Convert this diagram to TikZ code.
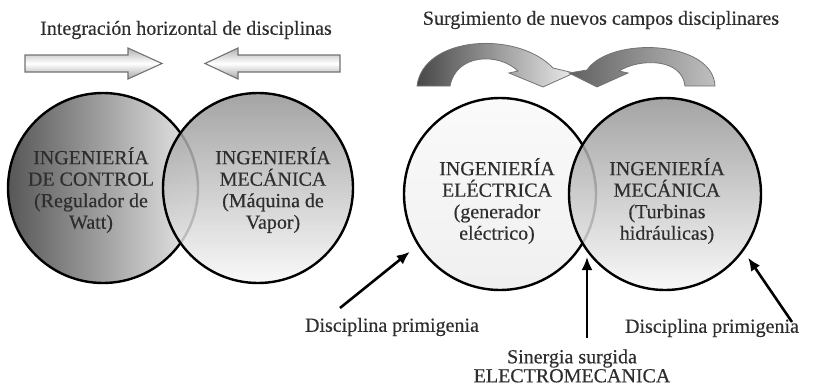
\documentclass[tikz,border=0pt]{standalone}
\usepackage{fontspec}
\setmainfont{Liberation Serif}[UprightFeatures={FakeBold=0.35}]
\usetikzlibrary{arrows.meta,positioning,calc}
\tikzset{headarrow/.style = {-{Latex[length=13pt,width=11pt]}, line width=2.6pt}}
\tikzset{field/.style = {circle, draw, line width=2.4pt, inner sep=0pt}}
\tikzset{fieldtext/.style = {align=center, font=\fontsize{20}{21.5}\selectfont, text=black!82}}
\tikzset{caption/.style = {font=\fontsize{20}{19}\selectfont, text=black!82}}
\tikzset{blockarrow/.style = {draw=black!55, line width=1.1pt, top color=black!30, bottom color=black!35, middle color=white}}
\tikzset{bentarrow/.style = {draw=black!55, line width=0.8pt}}

\begin{document}
\begin{tikzpicture}[x=1pt,y=-1pt]
    \useasboundingbox (0,0) rectangle (820,388);

    % titles
    \node[caption] (title-1) at (186,30) {Integración horizontal de disciplinas};
    \node[caption] (title-2) at (601,20) {Surgimiento de nuevos campos disciplinares};

    % horizontal integration
    \path[blockarrow] (25,55) -- (128,55) -- (128,48) -- (162,63.5) -- (128,79) -- (128,72) -- (25,72) -- cycle;
    \path[blockarrow] (340,55) -- (238,55) -- (238,48) -- (205,63.5) -- (238,79) -- (238,72) -- (340,72) -- cycle;

    % new fields
    \path[bentarrow, left color=black!72, right color=black!8]
        (417,86) .. controls (423,36) and (517,30) .. (553,68) -- (574,73) -- (543,87) -- (509,73) -- (518,71)
        .. controls (498,52) and (456,54) .. (450,86) -- cycle;
    \path[bentarrow, left color=black!62, right color=black!25]
        (715,86) .. controls (713,40) and (610,36) .. (587,70) -- (569,73) -- (597,87) -- (628,73) -- (619,71)
        .. controls (640,58) and (682,58) .. (685,86) -- cycle;

    % circles
    \node[field, minimum size=190pt, left color=black!66, right color=black!8] (ctrl) at (103,188) {};
    \node[field, minimum size=190pt, top color=black!42, bottom color=black!3, fill opacity=.85, draw opacity=1] (mec-1) at (258,188) {};
    \node[field, minimum size=192pt, top color=black!2, bottom color=black!6] (elec) at (500,194) {};
    \node[field, minimum size=192pt, top color=black!42, bottom color=black!3, fill opacity=.85, draw opacity=1] (mec-2) at (665,194) {};

    \node[fieldtext] (ctrl-text) at (91,190) {INGENIERÍA\\DE CONTROL\\(Regulador de\\Watt)};
    \node[fieldtext] (mec-1-text) at (273,190) {INGENIERÍA\\MECÁNICA\\(Máquina de\\Vapor)};
    \node[fieldtext] (elec-text) at (497,201) {INGENIERÍA\\ELÉCTRICA\\(generador\\eléctrico)};
    \node[fieldtext] (mec-2-text) at (667,201) {INGENIERÍA\\MECÁNICA\\(Turbinas\\hidráulicas)};

    % labels
    \node[caption] (orig-1) at (392,327) {Disciplina primigenia};
    \node[caption] (orig-2) at (712,328) {Disciplina primigenia};
    \node[caption, align=center] (syn) at (572,366) {Sinergia surgida\\ELECTROMECANICA};

    \coordinate (tail-1) at (340,308);
    \coordinate (tail-2) at (587,338);
    \coordinate (tail-3) at (792,322);
    \coordinate (meet) at (587,247);
    \draw[headarrow, shorten >=10pt] (tail-1) -- (elec.212);
    \draw[headarrow, shorten >=10pt] (tail-2) -- (meet);
    \draw[headarrow, shorten >=8pt] (tail-3) -- (mec-2.-36);
\end{tikzpicture}
\end{document}
